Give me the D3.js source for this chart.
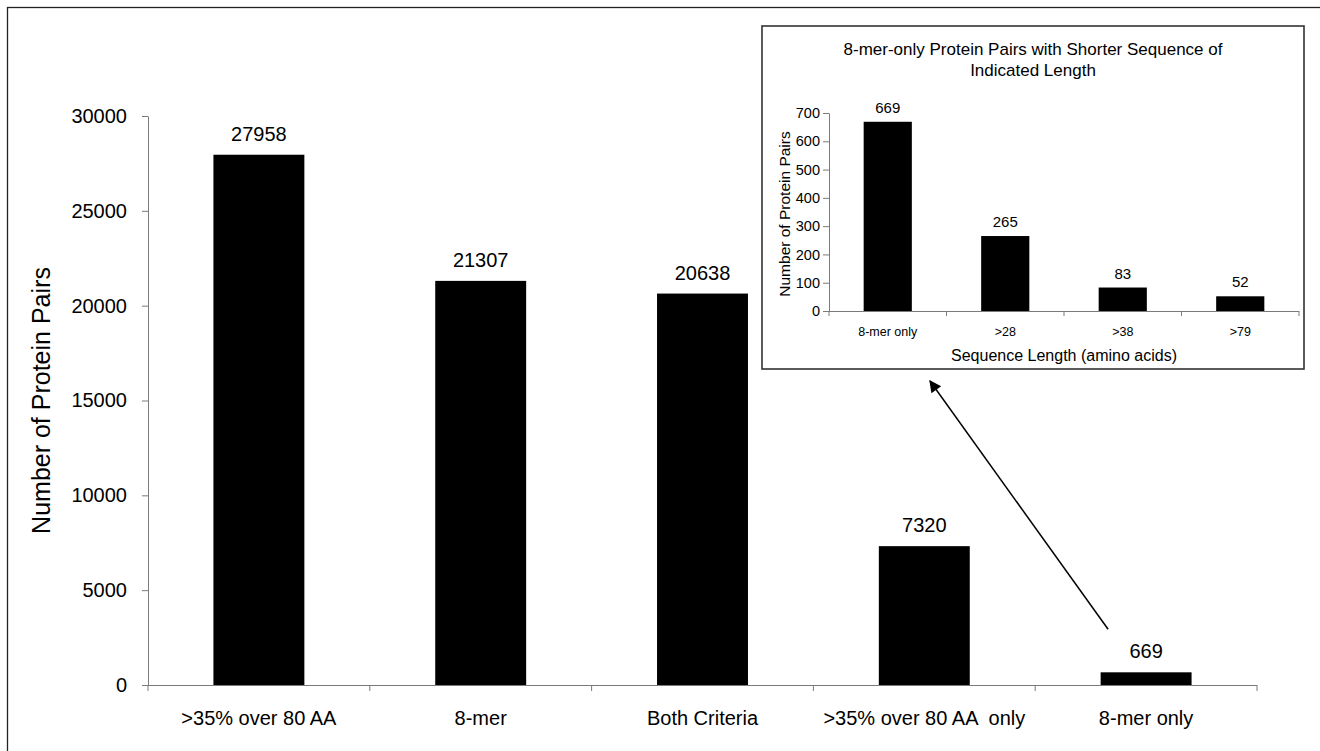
<!DOCTYPE html>
<html>
<head>
<meta charset="utf-8">
<script src="https://cdn.jsdelivr.net/npm/d3@7"></script>
<style>
  html, body { margin: 0; padding: 0; background: #fff; }
  svg { display: block; font-family: "Liberation Sans", Arial, Helvetica, sans-serif; }
  text { white-space: pre; }
</style>
</head>
<body>
<svg id="chart" width="1320" height="751"></svg>
<script>
// ---- Main chart data ----
const categories = [">35% over 80 AA", "8-mer", "Both Criteria", ">35% over 80 AA  only", "8-mer only"];
const values = [27958, 21307, 20638, 7320, 669];
const yTicks = [0, 5000, 10000, 15000, 20000, 25000, 30000];
const yTitle = "Number of Protein Pairs";

// ---- Inset chart data ----
const insetTitleLines = ["8-mer-only Protein Pairs with Shorter Sequence of", "Indicated Length"];
const insetCategories = ["8-mer only", ">28", ">38", ">79"];
const insetValues = [669, 265, 83, 52];
const insetTicks = [0, 100, 200, 300, 400, 500, 600, 700];
const insetYTitle = "Number of Protein Pairs";
const insetXTitle = "Sequence Length (amino acids)";

const svg = d3.select("#chart");
const axisColor = "#7a7a7a";

// Outer frame
svg.append("rect").attr("x", 7.5).attr("y", 7.5).attr("width", 1330).attr("height", 760)
  .attr("fill", "none").attr("stroke", "#222").attr("stroke-width", 1.3);

// ===== Main chart =====
const x = d3.scaleBand().domain(categories).range([148, 1257]).padding(0);
const y = d3.scaleLinear().domain([0, 30000]).range([685, 116]);
const barFrac = 0.41;
const data = categories.map((c, i) => ({ c, v: values[i] }));

// bars
svg.append("g").selectAll("rect").data(data).join("rect")
  .attr("x", d => x(d.c) + x.bandwidth() * (1 - barFrac) / 2)
  .attr("width", x.bandwidth() * barFrac)
  .attr("y", d => y(d.v))
  .attr("height", d => y(0) - y(d.v))
  .attr("fill", "#000");

// y axis
const yAxis = svg.append("g").attr("transform", `translate(${x.range()[0]},0)`)
  .call(d3.axisLeft(y).tickValues(yTicks).tickSize(6).tickPadding(15).tickSizeOuter(0).tickFormat(d3.format("d")));
yAxis.select(".domain").attr("stroke", axisColor);
yAxis.selectAll(".tick line").attr("stroke", axisColor);
yAxis.selectAll(".tick text").attr("font-size", 20).attr("fill", "#000").attr("font-family", null);

// x axis (tick marks at category boundaries)
const xg = svg.append("g");
xg.append("line").attr("x1", x.range()[0]).attr("x2", x.range()[1])
  .attr("y1", y(0) + 0.5).attr("y2", y(0) + 0.5).attr("stroke", axisColor);
const bounds = categories.map(c => x(c)).concat([x.range()[1]]);
xg.selectAll("line.tk").data(bounds).join("line").attr("class", "tk")
  .attr("x1", d => d).attr("x2", d => d)
  .attr("y1", y(0)).attr("y2", y(0) + 6).attr("stroke", axisColor);
xg.selectAll("text").data(categories).join("text")
  .attr("x", d => x(d) + x.bandwidth() / 2).attr("y", y(0) + 40)
  .attr("text-anchor", "middle").attr("font-size", 20).text(d => d);

// value labels
svg.append("g").selectAll("text").data(data).join("text")
  .attr("x", d => x(d.c) + x.bandwidth() / 2).attr("y", d => y(d.v) - 14)
  .attr("text-anchor", "middle").attr("font-size", 20).text(d => d.v);

// y title
svg.append("text").attr("transform", `translate(50,${(y.range()[0] + y.range()[1]) / 2}) rotate(-90)`)
  .attr("text-anchor", "middle").attr("font-size", 25).text(yTitle);

// ===== Inset =====
const box = { x: 762, y: 26, w: 542, h: 343 };
svg.append("rect").attr("x", box.x).attr("y", box.y).attr("width", box.w).attr("height", box.h)
  .attr("fill", "#fff").attr("stroke", "#333").attr("stroke-width", 1.6);

const ix = d3.scaleBand().domain(insetCategories).range([829, 1299]).padding(0);
const iy = d3.scaleLinear().domain([0, 700]).range([311, 113]);
const idata = insetCategories.map((c, i) => ({ c, v: insetValues[i] }));

svg.append("g").selectAll("text").data(insetTitleLines).join("text")
  .attr("x", box.x + box.w / 2).attr("y", (d, i) => 55 + i * 21)
  .attr("text-anchor", "middle").attr("font-size", 17).text(d => d);

svg.append("g").selectAll("rect").data(idata).join("rect")
  .attr("x", d => ix(d.c) + ix.bandwidth() * (1 - barFrac) / 2)
  .attr("width", ix.bandwidth() * barFrac)
  .attr("y", d => iy(d.v))
  .attr("height", d => iy(0) - iy(d.v))
  .attr("fill", "#000");

const iyAxis = svg.append("g").attr("transform", `translate(${ix.range()[0]},0)`)
  .call(d3.axisLeft(iy).tickValues(insetTicks).tickSize(6).tickPadding(3).tickSizeOuter(0));
iyAxis.select(".domain").attr("stroke", axisColor);
iyAxis.selectAll(".tick line").attr("stroke", axisColor);
iyAxis.selectAll(".tick text").attr("font-size", 14.5).attr("fill", "#000").attr("font-family", null);

const ixg = svg.append("g");
ixg.append("line").attr("x1", ix.range()[0]).attr("x2", ix.range()[1])
  .attr("y1", iy(0) + 0.5).attr("y2", iy(0) + 0.5).attr("stroke", axisColor);
const ibounds = insetCategories.map(c => ix(c)).concat([ix.range()[1]]);
ixg.selectAll("line.tk").data(ibounds).join("line").attr("class", "tk")
  .attr("x1", d => d).attr("x2", d => d)
  .attr("y1", iy(0)).attr("y2", iy(0) + 5).attr("stroke", axisColor);
ixg.selectAll("text").data(insetCategories).join("text")
  .attr("x", d => ix(d) + ix.bandwidth() / 2).attr("y", iy(0) + 25)
  .attr("text-anchor", "middle").attr("font-size", 12.5).text(d => d);

svg.append("g").selectAll("text").data(idata).join("text")
  .attr("x", d => ix(d.c) + ix.bandwidth() / 2).attr("y", d => iy(d.v) - 9)
  .attr("text-anchor", "middle").attr("font-size", 15).text(d => d.v);

svg.append("text").attr("transform", `translate(790,${(iy.range()[0] + iy.range()[1]) / 2 + 2}) rotate(-90)`)
  .attr("text-anchor", "middle").attr("font-size", 15.5).text(insetYTitle);

svg.append("text").attr("x", (ix.range()[0] + ix.range()[1]) / 2).attr("y", 361)
  .attr("text-anchor", "middle").attr("font-size", 16).text(insetXTitle);

// ===== Arrow from last bar's label towards inset =====
const defs = svg.append("defs");
defs.append("marker").attr("id", "ah").attr("viewBox", "0 0 10 10")
  .attr("refX", 9).attr("refY", 5).attr("markerWidth", 15).attr("markerHeight", 12)
  .attr("markerUnits", "userSpaceOnUse").attr("orient", "auto")
  .append("path").attr("d", "M0,0 L10,5 L0,10 Z").attr("fill", "#000");
const lastCat = categories[categories.length - 1];
const lastVal = values[values.length - 1];
svg.append("line")
  .attr("x1", x(lastCat) + x.bandwidth() / 2 - 38).attr("y1", y(lastVal) - 43)
  .attr("x2", 930).attr("y2", box.y + box.h + 12)
  .attr("stroke", "#000").attr("stroke-width", 1.5)
  .attr("marker-end", "url(#ah)");
</script>
</body>
</html>
